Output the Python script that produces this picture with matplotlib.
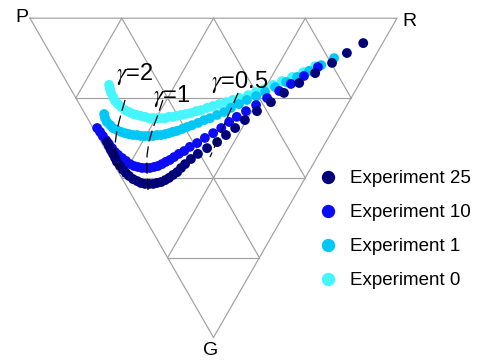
import numpy as np
import matplotlib
matplotlib.use("Agg")
import matplotlib.pyplot as plt
from matplotlib.lines import Line2D

plt.rcParams['font.family'] = ['Liberation Sans', 'DejaVu Sans']
plt.rcParams['mathtext.fontset'] = 'stix'

# trajectories in ternary shares (%): R and G, P = 100 - R - G
exp25_r = [1.6, 1.5, 1.4, 1.4, 1.3, 1.2, 1.4, 1.6, 1.9, 2.3, 2.9, 3.7, 4.4, 5.4, 6.5, 7.6,
           8.8, 10.1, 11.5, 12.9, 14.4, 16.0, 17.7, 19.4, 21.8, 24.5, 27.9, 31.6, 35.1, 38.7,
           42.6, 47.3, 52.5, 57.5, 63.2, 69.1, 75.3, 80.9, 86.9]
exp25_g = [38.8, 40.0, 41.3, 42.5, 43.8, 45.0, 46.3, 47.5, 48.5, 49.4, 50.4, 51.0, 51.6, 51.9, 51.9, 51.9,
           51.6, 51.3, 50.7, 50.0, 49.1, 48.2, 46.9, 45.7, 44.1, 42.5, 40.7, 38.8, 36.6, 34.4,
           31.9, 29.1, 26.3, 23.4, 20.3, 17.2, 14.0, 10.9, 7.8]

exp10_r = [1.1, 1.3, 1.4, 1.6, 1.8, 2.0, 2.2, 2.6, 3.2, 3.8, 4.4, 5.2, 6.1, 7.1, 8.2, 9.2,
           10.5, 11.7, 13.1, 14.5, 15.9, 17.5, 19.3, 21.2, 23.4, 26.0, 28.9, 31.9, 34.9, 38.0,
           40.9, 44.3, 48.0, 52.1, 56.5, 60.8, 65.6, 70.8]
exp10_g = [34.4, 35.6, 36.9, 38.2, 39.4, 40.7, 41.9, 42.8, 43.8, 44.7, 45.7, 46.3, 46.6, 46.9, 46.9, 46.9,
           46.6, 46.3, 45.7, 45.0, 44.4, 43.5, 42.5, 41.6, 40.3, 39.1, 37.5, 36.0, 34.4, 32.5,
           30.9, 29.1, 27.2, 25.0, 22.8, 20.6, 18.1, 15.3]

exp1_r = [5.2, 4.8, 4.7, 5.1, 5.4, 6.2, 7.0, 7.9, 8.8, 9.8, 10.9, 11.8, 12.9, 14.0, 15.1, 16.3,
          17.4, 18.7, 19.9, 21.1, 22.4, 24.1, 25.7, 27.4, 29.4, 31.5, 33.4, 35.8, 38.2, 40.7,
          43.5, 46.3, 49.4, 52.5, 56.0, 59.8, 63.6, 67.8, 72.0, 76.6]
exp1_g = [30.0, 31.3, 32.5, 33.5, 34.4, 35.0, 35.6, 36.0, 36.3, 36.6, 36.6, 36.9, 36.9, 36.9, 36.9, 36.6,
          36.6, 36.3, 36.0, 35.6, 35.3, 34.7, 34.1, 33.5, 32.8, 31.9, 31.3, 30.3, 29.4, 28.1,
          26.9, 25.6, 24.4, 23.1, 21.6, 20.0, 18.4, 16.5, 14.7, 12.5]

exp0_r = [11.1, 10.7, 10.4, 10.3, 10.2, 10.5, 10.9, 11.5, 12.3, 13.1, 14.0, 14.9, 15.9, 16.8, 17.9, 19.0,
          20.1, 21.2, 22.4, 23.5, 24.7, 26.0, 27.5, 29.0, 30.7, 32.2, 34.2, 36.1, 38.1, 40.3,
          42.5, 44.7, 47.4, 50.0, 52.7, 55.8, 58.8, 62.2, 66.0, 70.2]
exp0_g = [20.9, 22.2, 23.4, 24.7, 25.9, 26.9, 27.8, 28.8, 29.4, 30.0, 30.3, 30.6, 30.9, 31.3, 31.3, 31.3,
          31.3, 31.3, 30.9, 30.9, 30.6, 30.3, 30.0, 29.7, 29.1, 28.8, 28.1, 27.5, 26.9, 26.3,
          25.6, 25.0, 24.1, 23.1, 22.2, 20.9, 19.7, 18.4, 16.9, 15.0]

# gamma reference curves
gamma_labels = ['2', '1', '0.5']
gamma_r = [[13.1, 9.8, 6.2, 3.3, 1.5, 0.5],
           [23.4, 19.7, 16.3, 13.2, 10.5, 8.1, 4.8],
           [45.0, 27.3]]
gamma_g = [[25.6, 30.0, 35.0, 39.7, 43.8, 47.5],
           [25.6, 30.3, 34.4, 38.5, 42.8, 47.5, 54.8],
           [23.4, 43.5]]
gamma_text_r = [19.9, 26.4, 47.2]
gamma_text_g = [17.5, 24.5, 20.0]

series = ['Experiment 0', 'Experiment 1', 'Experiment 10', 'Experiment 25']
colors = ['#45f6ff', '#00c8f6', '#0c0cf2', '#00007a']
data_r = [exp0_r, exp1_r, exp10_r, exp25_r]
data_g = [exp0_g, exp1_g, exp10_g, exp25_g]

H = np.sqrt(3) / 2


def to_xy(r, g):
    # P top-left, R top-right, G bottom
    r = np.asarray(r) / 100.0
    g = np.asarray(g) / 100.0
    return r + 0.5 * g, H * (1 - g)


fig = plt.figure(figsize=(4.79, 3.6), dpi=100)
ax = fig.add_axes([0, 0, 1, 1])
ax.set_xlim(-30 / 367, 449 / 367)
ax.set_ylim(-22.5 / 368.7, 337.5 / 368.7)
ax.axis('off')

# triangular grid
grid_kw = dict(color='#a0a0a0', lw=0.85, zorder=1)
for c in [25, 50, 75]:
    x, y = to_xy([0, 100 - c], [c, c])
    ax.plot(x, y, **grid_kw)
    x, y = to_xy([c, c], [0, 100 - c])
    ax.plot(x, y, **grid_kw)
    x, y = to_xy([100 - c, 0], [0, 100 - c])
    ax.plot(x, y, **grid_kw)
x, y = to_xy([0, 100, 0, 0], [0, 0, 100, 0])
ax.plot(x, y, **grid_kw)

for i in range(4):
    x, y = to_xy(data_r[i], data_g[i])
    ax.scatter(x, y, s=50, color=colors[i], edgecolors='none', zorder=2 + i)

for i in range(3):
    x, y = to_xy(gamma_r[i], gamma_g[i])
    ax.plot(x, y, color='black', lw=0.9, linestyle=(0, (9, 4)), zorder=10)
    tx, ty = to_xy(gamma_text_r[i], gamma_text_g[i])
    ax.text(tx, ty, r'$\gamma$=' + gamma_labels[i], fontsize=17, ha='center', va='center', zorder=11)

# corner labels
ax.text(-0.0218, 0.869, 'P', fontsize=14, ha='center', va='center')
ax.text(1.0327, 0.858, 'R', fontsize=14, ha='center', va='center')
ax.text(0.4932, -0.034, 'G', fontsize=14, ha='center', va='center')

handles = [Line2D([], [], marker='o', linestyle='none', markersize=9.6,
                  markerfacecolor=colors[i], markeredgecolor='none') for i in [3, 2, 1, 0]]
labels = [series[i] for i in [3, 2, 1, 0]]
ax.legend(handles, labels, loc='upper left', bbox_to_anchor=(318.6 / 479, 1 - 170 / 360),
          frameon=False, fontsize=13.5, handlelength=1, handletextpad=0.67,
          borderpad=0, borderaxespad=0, labelspacing=0.9)

fig.savefig('out.png', dpi=100)
